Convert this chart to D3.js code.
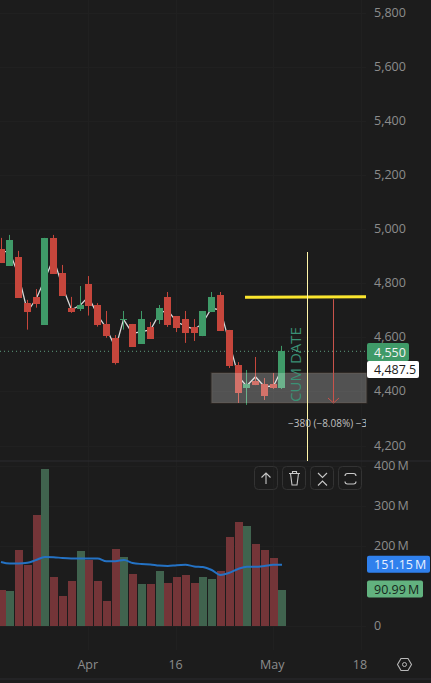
<!DOCTYPE html>
<html><head><meta charset="utf-8">
<style>html,body{margin:0;padding:0;background:#1c1c1c;overflow:hidden}svg{display:block}text{font-family:"Open Sans",sans-serif}</style>
<script src="https://cdn.jsdelivr.net/npm/d3@7/dist/d3.min.js"></script>
</head><body><svg id="c" width="431" height="683"></svg>
<script>
const opens  = [4928,4866,4898,4728,4751,4648,4969,4839,4710,4706,4799,4721,4651,4599,4667,4651,4578,4640,4666,4751,4680,4669,4640,4606,4695,4758,4629,4499,4414,4440,4429,4429,4414];
const closes = [4876,4961,4748,4696,4726,4969,4837,4756,4696,4721,4719,4648,4608,4508,4669,4567,4669,4597,4710,4647,4636,4618,4618,4699,4751,4625,4496,4396,4429,4425,4385,4414,4551];
const highs  = [4969,4980,4921,4740,4780,4969,4980,4869,4751,4791,4828,4728,4699,4610,4699,4651,4699,4658,4721,4769,4680,4699,4669,4699,4769,4769,4629,4510,4481,4529,4451,4470,4570];
const lows   = [4876,4866,4748,4630,4711,4648,4837,4756,4692,4699,4682,4641,4600,4501,4630,4567,4578,4597,4651,4640,4621,4581,4588,4606,4695,4625,4488,4359,4352,4425,4370,4411,4411];
const trend  = [4918,4918,4832,4696,4746,4813,4893,4789,4703,4721,4752,4684,4635,4561,4668,4616,4623,4629,4690,4703,4659,4643,4631,4653,4709,4703,4579,4456,4422,4456,4419,4422,4481];
const volumes= [90,87.5,190,152.5,277.5,392.5,122.5,75,112.5,187.5,165,112.5,62.5,192.5,172.5,130,105,105,137.5,107.5,122.5,127.5,107.5,122.5,117.5,137.5,222.5,260,250,205,190,170,90.99];
const volMA  = [160,156,156,158,165,172.5,172,170,169,169,169,169,162,162,165,157.5,155,154,151,150,152,153,149,147.5,140,127.5,133,142.5,148,148,150,153,153];
const priceTicks = [4200,4400,4600,4800,5000,5200,5400,5600,5800];
const volTicks = [0,200,300,400];
const dateTicks = [[10,"Apr"],[20,"16"],[31,"May"],[41,"18"]];
const lastPrice = 4550, crossPrice = 4487.5, levelPrice = 4750, zoneTop = 4470, zoneBottom = 4359;
const maLabel = "151.15\u2009M", volLabel = "90.99\u2009M", measure = "\u2212380 (\u22128.08%) \u22123";

const svg = d3.select("#c");
const x = d3.scaleLinear().domain([0,41]).range([1,361]);
const y = d3.scaleLinear().domain([4200,5800]).range([446,13]);
const v = d3.scaleLinear().domain([0,400]).range([626,466]);
const idx = d3.range(opens.length);
const UP="#3f9a68", DOWN="#c6463c", TXT="#8c8c8c";
const left = i => Math.round(x(i)-3.5);
svg.append("clipPath").attr("id","plot").append("rect").attr("width",366).attr("height",683);

// grid
const g = svg.append("g").attr("shape-rendering","crispEdges");
g.selectAll(".h").data(priceTicks).join("line").attr("x1",0).attr("x2",366).attr("y1",d=>y(d)).attr("y2",d=>y(d)).attr("stroke","#202020");
g.selectAll(".h2").data(volTicks).join("line").attr("x1",0).attr("x2",366).attr("y1",d=>v(d)).attr("y2",d=>v(d)).attr("stroke","#202020");
g.selectAll(".v").data(dateTicks).join("line").attr("x1",d=>x(d[0])).attr("x2",d=>x(d[0])).attr("y1",0).attr("y2",650).attr("stroke","#202020");
svg.append("line").attr("x1",0).attr("x2",431).attr("y1",461).attr("y2",461).attr("stroke","#2a2a2e");
svg.append("line").attr("x1",0).attr("x2",431).attr("y1",679).attr("y2",679).attr("stroke","#2a2a2e");

// zone backing and last price
const ZX0=211, ZX1=366;
svg.append("rect").attr("x",ZX0+.5).attr("y",y(zoneTop)).attr("width",ZX1-ZX0).attr("height",y(zoneBottom)-y(zoneTop)).attr("fill","none").attr("stroke","#2b2622").attr("stroke-width",2);
svg.append("line").attr("x1",0).attr("x2",366).attr("y1",y(lastPrice)).attr("y2",y(lastPrice)).attr("stroke","#5d9c7f").attr("stroke-dasharray","1 3");

// trend line
const line = d3.line().x(i=>left(i)+3.5).y(i=>y(trend[i]));
svg.append("path").datum(idx).attr("d",line).attr("fill","none").attr("stroke","#d8d8d8").attr("stroke-width",1.3);

// candles
const cg = svg.append("g");
cg.selectAll("line").data(idx).join("line").attr("x1",i=>left(i)+3.5).attr("x2",i=>left(i)+3.5).attr("y1",i=>y(highs[i])).attr("y2",i=>y(lows[i])).attr("stroke",i=>closes[i]>=opens[i]?UP:DOWN).attr("stroke-width",1);
cg.selectAll("rect").data(idx).join("rect").attr("x",left).attr("width",7).attr("y",i=>y(Math.max(opens[i],closes[i]))).attr("height",i=>Math.max(1,Math.abs(y(opens[i])-y(closes[i])))).attr("fill",i=>closes[i]>=opens[i]?UP:DOWN).attr("shape-rendering","crispEdges");

// zone overlay
svg.append("rect").attr("x",ZX0+.5).attr("y",y(zoneTop)).attr("width",ZX1-ZX0).attr("height",y(zoneBottom)-y(zoneTop)).attr("fill","#ffffff").attr("fill-opacity",.24);

// drawings
svg.append("line").attr("x1",245).attr("x2",366).attr("y1",y(levelPrice)+.2).attr("y2",y(levelPrice)-.5).attr("stroke","#fbe62e").attr("stroke-width",3);
svg.append("line").attr("x1",307.5).attr("x2",307.5).attr("y1",252).attr("y2",461).attr("stroke","#fff5a8").attr("stroke-width",1);
svg.append("line").attr("x1",333.5).attr("x2",333.5).attr("y1",y(levelPrice)+2).attr("y2",402).attr("stroke","#c9534b").attr("stroke-width",1);
svg.append("path").attr("d","M328 398L333.5 403L339 398").attr("fill","none").attr("stroke","#c9534b");
svg.append("text").attr("transform","translate(301,364.5) rotate(-90)").attr("text-anchor","middle").attr("font-size",15).attr("fill","#3a9075").text("CUM DATE");
svg.append("text").attr("x",288).attr("y",427).attr("font-size",10).attr("fill","#c0c0c0").attr("clip-path","url(#plot)").text(measure);

// volume
const vg = svg.append("g").attr("shape-rendering","crispEdges");
vg.selectAll("rect").data(idx).join("rect").attr("x",i=>left(i)-.5).attr("width",8).attr("y",i=>v(volumes[i])).attr("height",i=>626-v(volumes[i])).attr("fill",i=>closes[i]>=opens[i]?"#40634e":"#743538");
const maLine = d3.line().x(i=>x(i)).y(i=>v(volMA[i])).curve(d3.curveMonotoneX);
svg.append("path").datum(idx).attr("d",maLine).attr("fill","none").attr("stroke","#2472c4").attr("stroke-width",2);

// axes
const fmt = d3.format(",");
const priceAxis = svg.append("g").attr("transform","translate(366,-1)").call(d3.axisRight(y).tickValues(priceTicks).tickFormat(fmt).tickSize(0).tickPadding(8));
priceAxis.select(".domain").remove();
priceAxis.selectAll("text").attr("font-size",12.5).attr("fill",TXT).attr("font-family",'"Open Sans",sans-serif');
const volAxis = svg.append("g").attr("transform","translate(366,-.5)").call(d3.axisRight(v).tickValues(volTicks).tickFormat(d=>d?d+"\u2009M":"0").tickSize(0).tickPadding(8));
volAxis.select(".domain").remove();
volAxis.selectAll("text").attr("font-size",12.5).attr("fill",TXT).attr("font-family",'"Open Sans",sans-serif');
svg.selectAll(".dt").data(dateTicks).join("text").attr("x",d=>x(d[0])-1).attr("y",669).attr("text-anchor","middle").attr("font-size",12.5).attr("fill",TXT).text(d=>d[1]);

// price labels
function tag(xp,yc,w,h,bg,fg,t,fs){
  svg.append("rect").attr("x",xp).attr("y",yc-h/2).attr("width",w).attr("height",h).attr("rx",2).attr("fill",bg);
  svg.append("text").attr("x",xp+7).attr("y",yc+4.5).attr("font-size",fs).attr("fill",fg).text(t);
}
tag(367,352,42,18,UP,"#f2f2f2",fmt(lastPrice),12.5);
tag(367,369.5,52,17,"#ffffff","#1c1c1c",d3.format(",.1f")(crossPrice),12.5);
tag(367,564.3,63,17,"#2f80ed","#e8f1ff",maLabel,12.5);
tag(367,589,56,17,"#62b27f","#16281c",volLabel,12.5);

// buttons
const btnX=[254,282,310,338];
svg.selectAll(".b").data(btnX).join("rect").attr("x",d=>d+.5).attr("y",466.5).attr("width",23).attr("height",23).attr("rx",4).attr("fill","none").attr("stroke","#333");
const ic=svg.append("g").attr("fill","none").attr("stroke","#c8c8c8").attr("stroke-width",1.1);
ic.append("path").attr("d","M266 484V473M261.5 477.5L266 473L270.5 477.5");
ic.append("path").attr("d","M289 473.5H300M290.5 473.5L292 485H297L298.5 473.5M292.5 473.5V471.5H296.5V473.5");
ic.append("path").attr("d","M318 473L322.5 477.5L327 473M318 485.5L322.5 481L327 485.5");
ic.append("path").attr("d","M345 476Q345 473.5 347.5 473.5H353.5Q356 473.5 356 476M345 481.5Q345 484 347.5 484H353.5Q356 484 356 481.5");
// settings
svg.append("path").attr("d","M397.5 664.5L401 658.5H408L411.5 664.5L408 670.5H401Z").attr("fill","none").attr("stroke","#b8b8b8").attr("stroke-width",1.1);
svg.append("circle").attr("cx",404.5).attr("cy",664.5).attr("r",2).attr("fill","none").attr("stroke","#b8b8b8");
</script></body></html>
